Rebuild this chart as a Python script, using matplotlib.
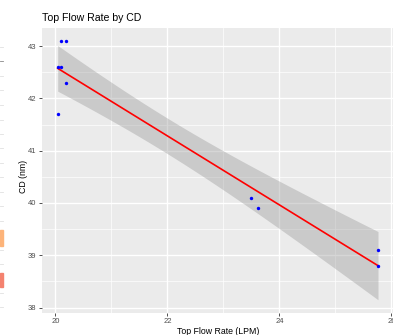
import numpy as np
import matplotlib
matplotlib.use("Agg")
import matplotlib.pyplot as plt
from matplotlib.patches import Rectangle

# Data
flow_rate = [20.04, 20.09, 20.10, 20.19, 20.19, 20.04, 23.50, 23.61, 25.76, 25.76]
cd_nm = [42.6, 42.6, 43.1, 43.1, 42.3, 41.7, 40.1, 39.9, 39.1, 38.8]
x_ticks = [20, 22, 24, 26]
y_ticks = [38, 39, 40, 41, 42, 43]
title = "Top Flow Rate by CD"
x_label = "Top Flow Rate (LPM)"
y_label = "CD (nm)"

plt.rcParams['font.family'] = ['Liberation Sans', 'DejaVu Sans']

W, H = 393, 335
fig = plt.figure(figsize=(W / 100, H / 100), dpi=100)
fig.patch.set_facecolor("white")

pl, pr, pt, pb = 41.7, 394.0, 28.0, 312.7
ax = fig.add_axes([pl / W, (H - pb) / H, (pr - pl) / W, (pb - pt) / H])
ax.set_facecolor("#EBEBEB")

x = np.array(flow_rate)
y = np.array(cd_nm)
n = len(x)
slope, intercept = np.polyfit(x, y, 1)
xs = np.linspace(x.min(), x.max(), 80)
yfit = intercept + slope * xs
resid = y - (intercept + slope * x)
s = np.sqrt(np.sum(resid ** 2) / (n - 2))
sxx = np.sum((x - x.mean()) ** 2)
se = s * np.sqrt(1.0 / n + (xs - x.mean()) ** 2 / sxx)
tval = 2.306
ax.fill_between(xs, yfit - tval * se, yfit + tval * se, color="#999999", alpha=0.4, linewidth=0, zorder=2)
ax.plot(xs, yfit, color="red", linewidth=1.2, zorder=3)
ax.scatter(x, y, s=6, color="blue", linewidths=0, zorder=4)

ax.set_xticks(x_ticks)
ax.set_yticks(y_ticks)
ax.set_xticks([21, 23, 25], minor=True)
ax.set_yticks([38.5, 39.5, 40.5, 41.5, 42.5], minor=True)

xmin, xmax = x.min(), x.max()
xr = xmax - xmin
ax.set_xlim(xmin - 0.05 * xr, xmax + 0.05 * xr)
ylo = min(y.min(), (yfit - tval * se).min())
yhi = max(y.max(), (yfit + tval * se).max())
yr = yhi - ylo
ax.set_ylim(ylo - 0.05 * yr, yhi + 0.05 * yr)

ax.grid(which="major", color="white", linewidth=1.0)
ax.grid(which="minor", color="white", linewidth=0.5)
ax.set_axisbelow(True)
for sp in ax.spines.values():
    sp.set_visible(False)
ax.tick_params(which="major", length=2.5, width=0.6, color="#333333",
               labelsize=5.5, labelcolor="#4D4D4D", pad=1.5)
ax.tick_params(which="minor", length=0)

ax.set_xlabel(x_label, fontsize=6.3, color="black", labelpad=1.5)
ax.set_ylabel(y_label, fontsize=6.3, color="black", labelpad=4)
ax.yaxis.set_label_coords(-0.04, 0.48)

fig.text(pl / W, 1 - 18 / H, title, fontsize=7.6, color="black", ha="left", va="center")

# cropped neighbour-plot remnants at the left edge
for (y0, y1, c) in [(230, 246, "#FDB47A"), (272.7, 287.3, "#F4826F")]:
    fig.patches.append(Rectangle((0, 1 - y1 / H), 3.3 / W, (y1 - y0) / H,
                                 transform=fig.transFigure, color=c, zorder=5))
for yy in [47, 76, 90, 105, 120, 134, 148, 163, 177, 192, 206, 221, 250, 264, 293, 307]:
    fig.lines.append(plt.Line2D([0, 3.3 / W], [1 - yy / H] * 2, transform=fig.transFigure,
                                color="#E0E0E0", linewidth=0.6))
fig.lines.append(plt.Line2D([0, 3.3 / W], [1 - 61 / H] * 2, transform=fig.transFigure,
                            color="#888888", linewidth=0.6))

fig.savefig("out.png", dpi=100)
